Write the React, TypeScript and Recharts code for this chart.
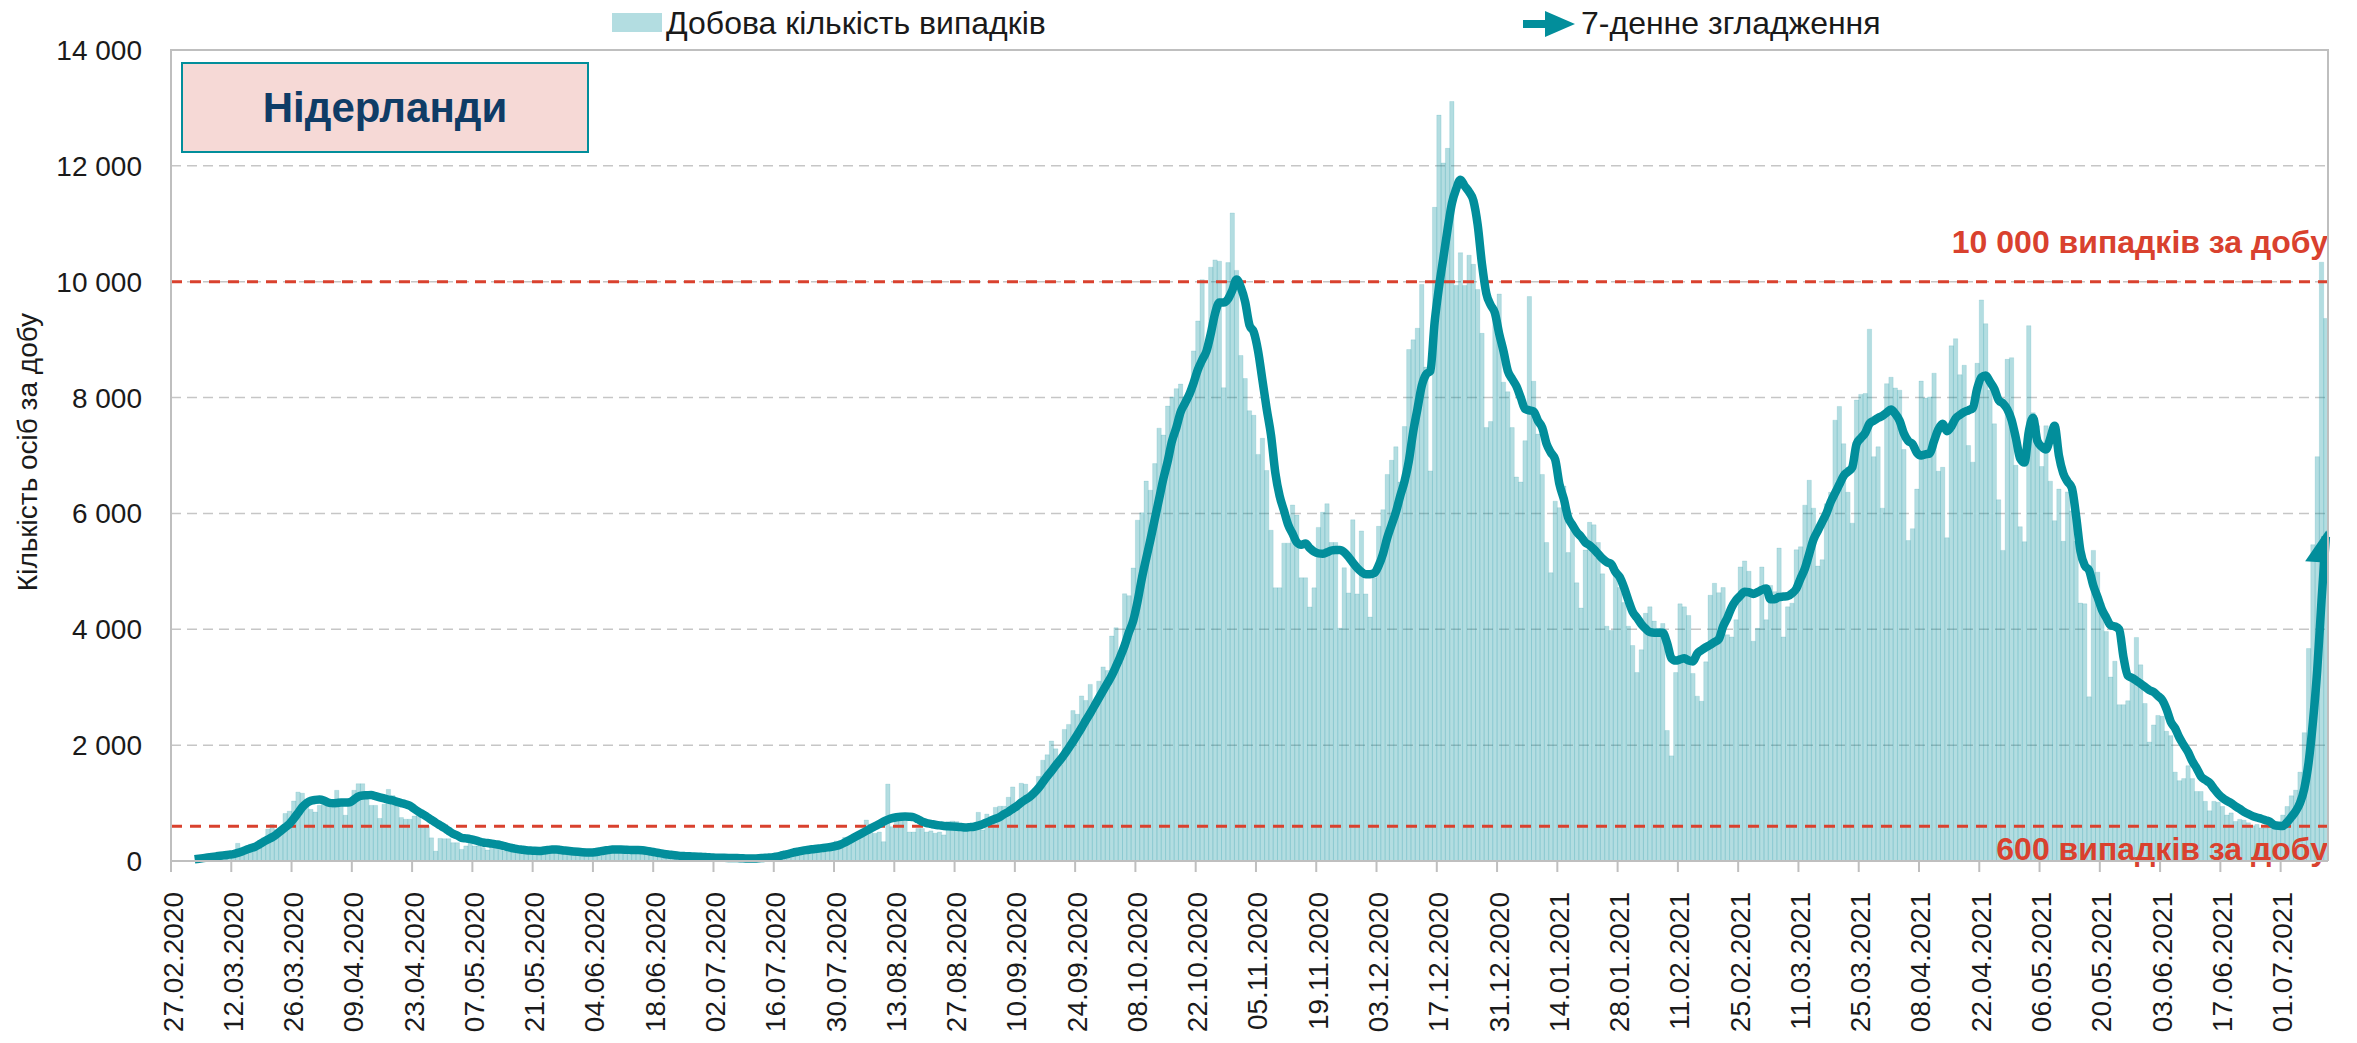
import React from 'react';
import { ComposedChart, Bar, Line, XAxis, YAxis, CartesianGrid, ReferenceLine } from 'recharts';

// ---------- DATA ----------
// Daily new cases, one value per day starting 27.02.2020
const casesPart1 = [
  1, 1, 2, 7, 6, 6, 14, 24, 44, 46,
  60, 77, 56, 61, 121, 305, 155, 176, 290, 300,
  350, 400, 550, 630, 540, 545, 820, 860, 1035, 1190,
  1170, 1065, 890, 845, 960, 1000, 960, 920, 1220, 1006,
  790, 950, 1220, 1334, 1334, 1065, 960, 960, 735, 980,
  1236, 1130, 950, 750, 720, 720, 776, 805, 600, 600,
  400, 170, 390, 385, 385, 316, 316, 200, 260, 430,
  260, 260, 232, 190, 250, 230, 200, 170, 160, 230,
  200, 190, 180, 150, 160, 175, 190, 200, 185, 175,
  160, 150, 170, 150, 140, 165, 150, 130, 160, 185,
];
const casesPart2 = [
  190, 180, 200, 175, 190, 185, 195, 180, 170, 160,
  155, 150, 140, 120, 110, 100, 95, 90, 85, 88,
  80, 84, 75, 70, 60, 55, 60, 50, 55, 52,
  48, 45, 42, 40, 38, 42, 50, 55, 60, 70,
  95, 110, 130, 150, 165, 180, 190, 195, 200, 210,
  190, 230, 240, 260, 345, 300, 408, 380, 420, 477,
  477, 707, 638, 477, 500, 333, 1328, 592, 707, 720,
  700, 500, 500, 560, 560, 500, 520, 480, 500, 450,
  680, 690, 680, 535, 520, 540, 535, 840, 535, 810,
  707, 925, 945, 945, 1100, 1278, 945, 1342, 1326, 1064,
];
const casesPart3 = [
  1183, 1461, 1739, 1834, 2072, 1937, 1659, 2271, 2358, 2596,
  2533, 2850, 2771, 3049, 2731, 3104, 3351, 3287, 3883, 4026,
  3565, 4613, 4581, 5058, 5884, 6011, 6558, 6400, 6860, 7472,
  7353, 7853, 8011, 8154, 8234, 8011, 8107, 8806, 9322, 10036,
  8806, 10250, 10377, 10354, 8170, 10330, 11187, 10195, 8726, 8329,
  7773, 7694, 7019, 7297, 6741, 5709, 4716, 4716, 5487, 5487,
  6146, 5971, 4889, 4889, 4385, 4715, 5759, 6020, 6168, 5498,
  5498, 4019, 5063, 4628, 5890, 4611, 5698, 4611, 4211, 4889,
  5777, 6064, 6673, 6917, 7151, 6542, 7500, 8830, 8996, 9196,
  9953, 8526, 6734, 11284, 12876, 12050, 12302, 13111, 9935, 10501,
];
const casesPart4 = [
  9935, 10457, 10300, 9866, 9109, 7482, 7586, 9413, 9788, 8265,
  8100, 7482, 6629, 6542, 7256, 9744, 8282, 7369, 6673, 5498,
  4976, 6212, 6100, 6473, 5324, 5846, 4802, 4367, 5368, 5846,
  5803, 5498, 4957, 4053, 3979, 5016, 4720, 4461, 4053, 3720,
  3253, 3646, 4276, 4387, 4142, 4016, 4100, 2253, 1815, 3253,
  4439, 4387, 4239, 3238, 2845, 2757, 3438, 4587, 4794, 4631,
  4720, 3905, 3868, 4164, 5076, 5180, 5002, 3794, 4016, 5076,
  4164, 4757, 4650, 5402, 3868, 4387, 4450, 5372, 5424, 6143,
  6573, 6091, 5091, 5200, 6165, 6365, 7610, 7847, 7203, 6365,
  5832, 7958, 8055, 8070, 9181, 6980, 7150, 6091, 8240, 8351,
];
const casesPart5 = [
  8166, 8128, 7103, 5532, 5737, 6420, 8285, 7991, 8012, 8421,
  6728, 6796, 5580, 8893, 9016, 8394, 8558, 7172, 6885, 8592,
  9685, 9275, 8128, 7547, 6236, 5362, 8660, 8688, 6830, 5771,
  5512, 9241, 7738, 7513, 6810, 7513, 6557, 5874, 6420, 5519,
  6372, 6044, 5519, 4453, 4440, 2834, 5362, 4986, 4453, 3961,
  3176, 3449, 2698, 2698, 2766, 3190, 3859, 3386, 2719, 2053,
  2349, 2512, 2497, 2238, 2164, 1534, 1386, 1423, 1645, 1423,
  1200, 1200, 1030, 867, 1030, 1015, 941, 793, 830, 682,
  719, 704, 660, 608, 630, 571, 571, 608, 630, 608,
  793, 941, 1126, 1223, 1534, 2216, 3668, 5461, 6980, 10337,
  9366,
];

// 7-day smoothing line (null where not drawn)
const avgPart1 = [
  null, null, null, null, null, 30, 40, 50, 60, 70,
  80, 90, 100, 110, 120, 140, 165, 195, 220, 245,
  285, 330, 370, 410, 460, 520, 580, 640, 730, 830,
  930, 1000, 1040, 1055, 1060, 1045, 1010, 995, 1000, 1010,
  1010, 1015, 1060, 1110, 1130, 1135, 1140, 1120, 1100, 1080,
  1060, 1045, 1020, 1000, 980, 955, 900, 850, 805, 760,
  710, 660, 615, 570, 520, 470, 440, 400, 390, 378,
  360, 340, 320, 310, 300, 288, 275, 255, 235, 220,
  205, 195, 186, 180, 176, 174, 180, 190, 198, 200,
  190, 180, 173, 165, 158, 152, 148, 145, 152, 165,
];
const avgPart2 = [
  178, 188, 198, 200, 198, 195, 192, 190, 190, 185,
  175, 162, 148, 135, 122, 112, 104, 96, 88, 84,
  80, 78, 75, 70, 66, 62, 58, 55, 54, 53,
  52, 50, 47, 44, 42, 44, 48, 53, 58, 63,
  75, 90, 108, 125, 145, 160, 175, 188, 198, 208,
  215, 225, 235, 245, 260, 285, 320, 360, 400, 440,
  480, 520, 560, 600, 640, 680, 715, 740, 755, 765,
  770, 765, 755, 720, 680, 655, 640, 625, 615, 605,
  600, 595, 590, 585, 580, 585, 592, 610, 635, 665,
  700, 730, 760, 810, 850, 900, 950, 1010, 1060, 1110,
];
const avgPart3 = [
  1180, 1260, 1360, 1460, 1550, 1650, 1740, 1840, 1950, 2060,
  2180, 2300, 2430, 2550, 2680, 2810, 2940, 3070, 3200, 3360,
  3530, 3720, 3950, 4150, 4480, 4880, 5220, 5550, 5900, 6250,
  6600, 6900, 7250, 7480, 7750, 7900, 8050, 8250, 8480, 8650,
  8800, 9100, 9450, 9640, 9640, 9700, 9850, 10040, 9900, 9650,
  9250, 9130, 8800, 8300, 7800, 7350, 6700, 6300, 6050, 5800,
  5650, 5500, 5460, 5480, 5400, 5340, 5310, 5305, 5330, 5360,
  5370, 5370, 5330, 5250, 5150, 5060, 4990, 4950, 4950, 4970,
  5100, 5300, 5580, 5800, 6020, 6300, 6550, 6900, 7400, 7800,
  8200, 8400, 8460, 9300, 9900, 10400, 10900, 11350, 11600, 11760,
];
const avgPart4 = [
  11650, 11550, 11400, 10980, 10300, 9800, 9600, 9460, 9100, 8800,
  8460, 8320, 8195, 8000, 7804, 7780, 7760, 7600, 7480, 7200,
  7050, 6930, 6500, 6250, 5930, 5800, 5680, 5600, 5500, 5450,
  5380, 5300, 5220, 5160, 5128, 4990, 4900, 4720, 4500, 4300,
  4200, 4090, 4010, 3950, 3942, 3942, 3940, 3760, 3500, 3460,
  3480, 3498, 3460, 3446, 3580, 3640, 3690, 3730, 3780, 3830,
  4050, 4200, 4380, 4500, 4580, 4646, 4640, 4610, 4640, 4680,
  4705, 4520, 4520, 4557, 4565, 4572, 4620, 4700, 4880, 5050,
  5300, 5550, 5700, 5850, 6000, 6200, 6350, 6500, 6650, 6720,
  6795, 7200, 7300, 7388, 7550, 7600, 7650, 7684, 7740, 7795,
];
const avgPart5 = [
  7720, 7600, 7380, 7250, 7200, 7050, 7000, 7020, 7035, 7250,
  7450, 7547, 7420, 7500, 7640, 7700, 7750, 7780, 7820, 8150,
  8350, 8380, 8270, 8150, 7957, 7900, 7800, 7615, 7300, 6950,
  6880, 7410, 7650, 7250, 7150, 7103, 7300, 7513, 7001, 6693,
  6550, 6440, 5950, 5350, 5100, 5020, 4750, 4550, 4337, 4200,
  4070, 4050, 3996, 3517, 3200, 3160, 3110, 3060, 3005, 2950,
  2916, 2850, 2780, 2620, 2400, 2290, 2127, 2000, 1880, 1720,
  1600, 1460, 1400, 1349, 1250, 1160, 1090, 1040, 1000, 945,
  900, 850, 810, 775, 750, 730, 705, 680, 620, 608,
  605, 670, 760, 860, 1000, 1250, 1700, 2400, 3300, 4500,
  5600,
];

const tickLabels = [
  '27.02.2020', '12.03.2020', '26.03.2020', '09.04.2020', '23.04.2020', '07.05.2020',
  '21.05.2020', '04.06.2020', '18.06.2020', '02.07.2020', '16.07.2020', '30.07.2020',
  '13.08.2020', '27.08.2020', '10.09.2020', '24.09.2020', '08.10.2020', '22.10.2020',
  '05.11.2020', '19.11.2020', '03.12.2020', '17.12.2020', '31.12.2020', '14.01.2021',
  '28.01.2021', '11.02.2021', '25.02.2021', '11.03.2021', '25.03.2021', '08.04.2021',
  '22.04.2021', '06.05.2021', '20.05.2021', '03.06.2021', '17.06.2021', '01.07.2021',
];
const yTicks = [0, 2000, 4000, 6000, 8000, 10000, 12000, 14000];
const thresholds = [10000, 600];

const seriesNames = { cases: 'Добова кількість випадків', avg: '7-денне згладження' };
const titleText = 'Нідерланди';
const yAxisTitle = 'Кількість осіб за добу';

// ---------- LAYOUT ----------
const FONT = '"Liberation Sans", Arial, Helvetica, sans-serif';
const W = 2357;
const H = 1043;
const PLOT_LEFT = 171;
const PLOT_RIGHT = 2328;
const PLOT_TOP = 50;
const PLOT_BOTTOM = 861;
const TEAL = '#028e9b';
const RED = '#d9412e';
const AXIS_GRAY = '#bfbfbf';
const TEXT = '#1a1a1a';

const daily = [...casesPart1, ...casesPart2, ...casesPart3, ...casesPart4, ...casesPart5];
const smooth = [...avgPart1, ...avgPart2, ...avgPart3, ...avgPart4, ...avgPart5];
const N = daily.length;
const BAND = (PLOT_RIGHT - PLOT_LEFT) / N;
const PX_PER_UNIT = (PLOT_BOTTOM - PLOT_TOP) / 14000;

function dateLabel(i: number) {
  const d = new Date(Date.UTC(2020, 1, 27 + i));
  const dd = String(d.getUTCDate()).padStart(2, '0');
  const mm = String(d.getUTCMonth() + 1).padStart(2, '0');
  return `${dd}.${mm}.${d.getUTCFullYear()}`;
}

const data = daily.map((v, i) => ({ date: dateLabel(i), cases: v, avg: smooth[i] }));
const tickSet = new Set(tickLabels);

const fmt = (v: number) => String(v).replace(/\B(?=(\d{3})+(?!\d))/g, ' ');

const DateTick = (props: any) => {
  const { x, payload } = props;
  if (!payload || !tickSet.has(payload.value)) return <g />;
  const x0 = x - BAND / 2;
  const tx = x0 + 2;
  const ty = 892;
  return (
    <g>
      <line x1={x0} x2={x0} y1={PLOT_BOTTOM} y2={PLOT_BOTTOM + 11} stroke={AXIS_GRAY} strokeWidth={2} />
      <text
        x={tx}
        y={ty}
        transform={`rotate(-90, ${tx}, ${ty})`}
        textAnchor="end"
        dominantBaseline="central"
        fontSize={28}
        fontFamily={FONT}
        fill={TEXT}
      >
        {payload.value}
      </text>
    </g>
  );
};

const YTitle = () => (
  <text
    x={27}
    y={452}
    transform="rotate(-90, 27, 452)"
    textAnchor="middle"
    dominantBaseline="central"
    fontSize={28}
    fontFamily={FONT}
    fill={TEXT}
  >
    {yAxisTitle}
  </text>
);

const ThresholdLabel = (props: any) => {
  const { viewBox, above, text } = props;
  if (!viewBox) return null;
  const x = viewBox.x + viewBox.width;
  const y = above ? viewBox.y - 29 : viewBox.y + 34;
  return (
    <text x={x} y={y} textAnchor="end" fontSize={32} fontWeight="bold" fontFamily={FONT} fill={RED}>
      {text}
    </text>
  );
};

const ArrowDot = (props: any) => {
  const { cx, cy, index } = props;
  if (index !== N - 1 || cx == null || cy == null) return <g key={`d${index}`} />;
  const prev = smooth[N - 2] as number;
  const last = smooth[N - 1] as number;
  const dx = BAND;
  const dy = -(last - prev) * PX_PER_UNIT;
  const len = Math.hypot(dx, dy);
  const ux = dx / len;
  const uy = dy / len;
  const tipX = cx + ux * 6;
  const tipY = cy + uy * 6;
  const L = 32;
  const HW = 19;
  const bx = tipX - ux * L;
  const by = tipY - uy * L;
  const px = -uy;
  const py = ux;
  return (
    <g key="arrow">
      <defs>
        <clipPath id="arrowClip">
          <rect x={PLOT_LEFT} y={PLOT_TOP - 40} width={PLOT_RIGHT - PLOT_LEFT} height={PLOT_BOTTOM - PLOT_TOP + 40} />
        </clipPath>
      </defs>
      <polygon
        clipPath="url(#arrowClip)"
        points={`${tipX},${tipY} ${bx + px * HW},${by + py * HW} ${bx - px * HW},${by - py * HW}`}
        fill={TEAL}
      />
    </g>
  );
};

export default function App() {
  return (
    <div style={{ position: 'absolute', left: 0, top: 0, width: W, height: H, background: '#fff', fontFamily: FONT }}>
      <ComposedChart
        width={W}
        height={H}
        data={data}
        margin={{ top: PLOT_TOP, right: W - PLOT_RIGHT, bottom: 0, left: 0 }}
        barCategoryGap={0}
        barGap={0}
        style={{ fontFamily: FONT }}
      >
        <CartesianGrid vertical={false} stroke="#c6c6c6" strokeWidth={1.5} strokeDasharray="10 6" />
        <XAxis
          dataKey="date"
          interval={0}
          height={H - PLOT_BOTTOM}
          tickLine={false}
          tickSize={0}
          axisLine={{ stroke: AXIS_GRAY, strokeWidth: 2 }}
          tick={<DateTick />}
        />
        <YAxis
          type="number"
          domain={[0, 14000]}
          ticks={yTicks}
          interval={0}
          width={PLOT_LEFT}
          tickLine={false}
          tickSize={0}
          tickMargin={29}
          tickFormatter={fmt}
          axisLine={{ stroke: AXIS_GRAY, strokeWidth: 2 }}
          tick={{ fontSize: 28, fill: TEXT, fontFamily: FONT }}
          label={<YTitle />}
        />
        <Bar
          dataKey="cases"
          name={seriesNames.cases}
          fill={TEAL}
          fillOpacity={0.3}
          stroke={TEAL}
          strokeOpacity={0.22}
          strokeWidth={0.6}
          barSize={4.3}
          isAnimationActive={false}
        />
        <ReferenceLine
          y={thresholds[0]}
          stroke={RED}
          strokeWidth={3}
          strokeDasharray="11 8"
          label={<ThresholdLabel above text="10 000 випадків за добу" />}
        />
        <ReferenceLine
          y={thresholds[1]}
          stroke={RED}
          strokeWidth={3}
          strokeDasharray="11 8"
          label={<ThresholdLabel above={false} text="600 випадків за добу" />}
        />
        <Line
          dataKey="avg"
          name={seriesNames.avg}
          type="monotone"
          stroke={TEAL}
          strokeWidth={8.5}
          strokeLinejoin="round"
          strokeLinecap="butt"
          dot={ArrowDot}
          activeDot={false}
          connectNulls={false}
          isAnimationActive={false}
        />
      </ComposedChart>

      {/* plot frame top & right */}
      <div
        style={{
          position: 'absolute',
          left: PLOT_LEFT - 1,
          top: PLOT_TOP - 1,
          width: PLOT_RIGHT - PLOT_LEFT + 2,
          height: PLOT_BOTTOM - PLOT_TOP + 1,
          borderTop: `2px solid ${AXIS_GRAY}`,
          borderRight: `2px solid ${AXIS_GRAY}`,
          boxSizing: 'border-box',
          pointerEvents: 'none',
        }}
      />

      {/* title box */}
      <div
        style={{
          position: 'absolute',
          left: 181,
          top: 62,
          width: 408,
          height: 91,
          boxSizing: 'border-box',
          background: '#f6d9d6',
          border: `2px solid ${TEAL}`,
          display: 'flex',
          alignItems: 'center',
          justifyContent: 'center',
          fontSize: 42,
          fontWeight: 'bold',
          color: '#0f3c66',
        }}
      >
        {titleText}
      </div>

      {/* legend */}
      <div style={{ position: 'absolute', left: 612, top: 13, width: 50, height: 19, background: '#b3dde1' }} />
      <div style={{ position: 'absolute', left: 666, top: 2, height: 42, lineHeight: '42px', fontSize: 32, color: TEXT, whiteSpace: 'nowrap' }}>
        {seriesNames.cases}
      </div>
      <svg style={{ position: 'absolute', left: 1521, top: 8 }} width={56} height={32}>
        <line x1={2} y1={16} x2={26} y2={16} stroke={TEAL} strokeWidth={8} />
        <polygon points="24,3 54,16 24,29" fill={TEAL} />
      </svg>
      <div style={{ position: 'absolute', left: 1581, top: 2, height: 42, lineHeight: '42px', fontSize: 32, color: TEXT, whiteSpace: 'nowrap' }}>
        {seriesNames.avg}
      </div>
    </div>
  );
}
